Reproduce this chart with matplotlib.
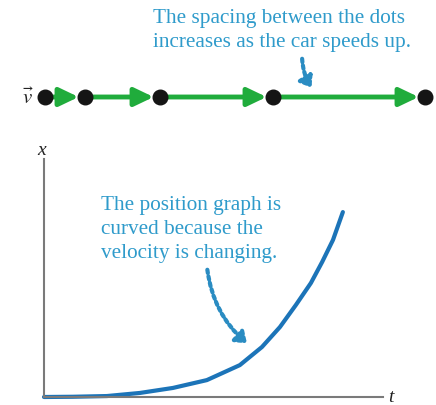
import matplotlib
matplotlib.use("Agg")
import matplotlib.pyplot as plt
from matplotlib.patches import FancyArrowPatch

plt.rcParams["font.family"] = ["Liberation Serif", "DejaVu Serif"]
plt.rcParams["mathtext.fontset"] = "stix"

W, H = 436, 406

# motion diagram: dot positions (arbitrary length units)
dot_positions = [0.0, 1.0, 2.875, 5.7, 9.5]

# position graph samples
t_values = [0.0, 0.85, 1.85, 2.82, 3.79, 4.79, 5.76, 6.41, 6.94, 7.41,
            7.85, 8.18, 8.5, 8.79]
x_values = [0.0, 0.01, 0.04, 0.17, 0.38, 0.71, 1.34, 2.1, 2.94, 3.87,
            4.79, 5.67, 6.6, 7.77]

top_note = ["The spacing between the dots", "increases as the car speeds up."]
graph_note = ["The position graph is", "curved because the", "velocity is changing."]

TEXT_BLUE = "#2f9bcb"
ARROW_BLUE = "#2a8cc2"
CURVE_BLUE = "#1c74b8"
GREEN = "#20ac3c"


def px(x, y):
    """pixel position (from top-left) to figure fraction"""
    return x / W, 1 - y / H


fig = plt.figure(figsize=(W / 100, H / 100), dpi=100)
fig.patch.set_facecolor("white")

# top strip: dots and velocity arrows
ax_top = fig.add_axes([0, 1 - 120 / H, 1, 120 / H])
ax_top.set_xlim(-45 / 40, (W - 45) / 40)
ax_top.set_ylim(120, 0)
ax_top.axis("off")

row_y = 98
for a, b in zip(dot_positions[:-1], dot_positions[1:]):
    ax_top.annotate("", xy=(b - 0.16, row_y), xytext=(a, row_y),
                    arrowprops=dict(arrowstyle="-|>,head_length=1.15,head_width=0.55",
                                    color=GREEN, lw=3.5, shrinkA=0, shrinkB=0))
ax_top.scatter(dot_positions, [row_y] * len(dot_positions), s=110,
               color="#151515", zorder=5)

fig.text(*px(28, 99), r"$\vec{v}$", fontsize=15, ha="center", va="center",
         color="#222222")

for i, line in enumerate(top_note):
    fig.text(*px(153, 23 + 24 * i), line, fontsize=15.3, color=TEXT_BLUE,
             ha="left", va="baseline")

fig.patches.append(FancyArrowPatch(px(302, 57), px(313, 91),
                                   transform=fig.transFigure,
                                   connectionstyle="arc3,rad=0.15",
                                   arrowstyle="-|>,head_length=4,head_width=3",
                                   linestyle=(0, (0.8, 0.8)), lw=3,
                                   color=ARROW_BLUE, mutation_scale=1.5))

# position graph
x0, y0 = 44, 398
ax = fig.add_axes([x0 / W, 1 - y0 / H, (383 - x0) / W, (y0 - 160) / H])
ax.set_xlim(0, (383 - x0) / 34)
ax.set_ylim(0, (y0 - 160) / 23.8)
ax.plot(t_values, x_values, color=CURVE_BLUE, lw=3, solid_capstyle="round",
        solid_joinstyle="round", clip_on=False)
for side in ["top", "right"]:
    ax.spines[side].set_visible(False)
for side in ["left", "bottom"]:
    ax.spines[side].set_color("#7a7a7a")
    ax.spines[side].set_linewidth(1.5)
ax.set_xticks([])
ax.set_yticks([])
ax.patch.set_alpha(0)

fig.text(*px(42, 151), "x", fontsize=14, style="italic", ha="center",
         va="center", color="#222222")
fig.text(*px(391, 398), "t", fontsize=14, style="italic", ha="center",
         va="center", color="#222222")

for i, line in enumerate(graph_note):
    fig.text(*px(101, 210 + 24 * i), line, fontsize=15.3, color=TEXT_BLUE,
             ha="left", va="baseline")

fig.patches.append(FancyArrowPatch(px(207, 268), px(249, 346),
                                   transform=fig.transFigure,
                                   connectionstyle="arc3,rad=0.2",
                                   arrowstyle="-|>,head_length=4,head_width=3",
                                   linestyle=(0, (0.8, 0.8)), lw=3,
                                   color=ARROW_BLUE, mutation_scale=1.5))

fig.savefig("out.png", dpi=100)
